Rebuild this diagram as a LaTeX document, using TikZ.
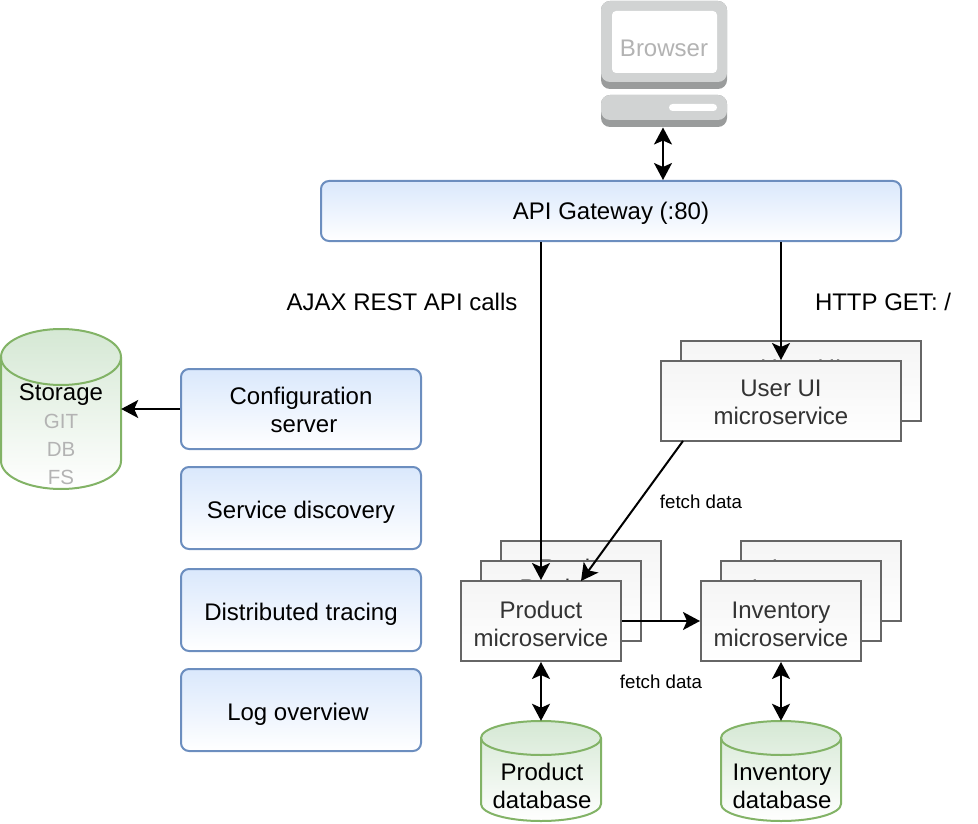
\documentclass[tikz,border=0pt]{standalone}
\usepackage{fontspec}
\setmainfont{Liberation Sans}
\usetikzlibrary{arrows.meta}
\definecolor{bluefill}{HTML}{DAE8FC}
\definecolor{blueline}{HTML}{6C8EBF}
\definecolor{greenfill}{HTML}{D5E8D4}
\definecolor{greenline}{HTML}{82B366}
\definecolor{msline}{HTML}{666666}
\definecolor{mstext}{HTML}{333333}
\definecolor{msfill}{HTML}{F5F5F5}
\definecolor{mutedtext}{HTML}{B3B3B3}
\definecolor{pclight}{HTML}{D1D3D3}
\definecolor{pcdark}{HTML}{9A9C9C}
\newcommand{\tl}[2]{\raisebox{-#1}[\height][\depth]{#2}}
\newcommand{\cylbody}[5]{%
  \path[cylstyle] (#1-#4,#2+#5) -- (#1-#4,#3-#5)
    .. controls (#1-#4,#3-#5+0.5523*#5) and (#1-0.5523*#4,#3) .. (#1,#3)
    .. controls (#1+0.5523*#4,#3) and (#1+#4,#3-#5+0.5523*#5) .. (#1+#4,#3-#5)
    -- (#1+#4,#2+#5)
    .. controls (#1+#4,#2+#5-0.5523*#5) and (#1+0.5523*#4,#2) .. (#1,#2)
    .. controls (#1-0.5523*#4,#2) and (#1-#4,#2+#5-0.5523*#5) .. (#1-#4,#2+#5) -- cycle;
  \draw[greenline,line width=2pt] (#1-#4,#2+#5)
    .. controls (#1-#4,#2+#5+0.5523*#5) and (#1-0.5523*#4,#2+2*#5) .. (#1,#2+2*#5)
    .. controls (#1+0.5523*#4,#2+2*#5) and (#1+#4,#2+#5+0.5523*#5) .. (#1+#4,#2+#5);
}
\tikzset{
  x=1pt,y=-1pt,
  >={Stealth[length=17pt,width=18pt,inset=4pt]},
  labelfont/.style={font=\fontsize{24}{28}\selectfont,align=center,inner sep=0pt},
  smallfont/.style={font=\fontsize{18.7}{22}\selectfont,inner sep=0pt},
  mutedfont/.style={font=\fontsize{20.5}{24}\selectfont,inner sep=0pt,text=mutedtext},
  cylstyle/.style={draw=greenline,line width=2pt,top color=greenfill,bottom color=white},
  bluebox/.style={labelfont,draw=blueline,line width=2pt,rounded corners=8pt,top color=bluefill,bottom color=white,text=black,minimum width=240pt,minimum height=80pt},
  msbox/.style={labelfont,draw=msline,line width=2pt,top color=msfill,bottom color=white,text=mstext,minimum width=160pt,minimum height=80pt},
  uibox/.style={msbox,minimum width=240pt},
  cyltext/.style={labelfont,text=black},
  pcdarkpart/.style={fill=pcdark,draw=none,rounded corners=9pt},
  pclightpart/.style={fill=pclight,draw=none,rounded corners=9pt},
  link/.style={draw=black,line width=2pt},
}
\begin{document}
\begin{tikzpicture}
\useasboundingbox (0,0) rectangle (978,824);
% browser
\path[pcdarkpart] (601,1) rectangle (727,89);
\path[pclightpart] (601,1) rectangle (727,82);
\path[fill=white,rounded corners=4pt] (612,11) rectangle (717,73);
\node[labelfont,text=mutedtext] (browser) at (664,48) {Browser};
\path[pcdarkpart] (601,95) rectangle (727,127);
\node[pclightpart,inner sep=0pt,minimum width=126pt,minimum height=25pt] (browserbase) at (664,107.5) {};
\path[fill=white,rounded corners=3.5pt] (669,104) rectangle (717,111);
\coordinate (browserfoot) at (663,127.5);
% gateway
\node[bluebox,minimum width=580pt,minimum height=60pt] (gw) at (611,211) {\tl{2pt}{API Gateway (:80)}};
% left column
\node[bluebox] (config) at (301,409) {\tl{1pt}{Configuration}\\\tl{1pt}{\hspace{6pt}server}};
\node[bluebox,minimum height=82pt] (disc) at (301,508) {\tl{4pt}{Service discovery}};
\node[bluebox,minimum height=82pt] (trace) at (301,610) {\tl{4pt}{Distributed tracing}};
\node[bluebox,minimum height=82pt] (log) at (301,710) {\tl{4pt}{Log overview\hspace{6pt}}};
% storage
\cylbody{61}{329}{489}{60}{28}
\node[cyltext,minimum width=120pt,minimum height=160pt] (storage) at (61,409) {};
\node[cyltext] (storagetitle) at (61,395) {Storage};
\node[mutedfont] (storagegit) at (61,421) {GIT};
\node[mutedfont] (storagedb) at (61,449) {DB};
\node[mutedfont] (storagefs) at (61,477) {FS};
% microservices
\node[uibox] (userback) at (801,381) {\tl{1pt}{User UI}\\\phantom{microservice}};
\node[msbox] (prodback) at (581,581) {\tl{1pt}{Product}\\\phantom{microservice}};
\node[msbox] (prodmid) at (561,601) {\tl{1pt}{Product}\\\phantom{microservice}};
\node[msbox] (invback) at (821,581) {\tl{1pt}{Inventory}\\\phantom{microservice}};
\node[msbox] (invmid) at (801,601) {\tl{1pt}{Inventory}\\\phantom{microservice}};
\node[uibox] (user) at (781,401) {\tl{1pt}{User UI}\\\tl{1pt}{microservice}};
\node[msbox] (prod) at (541,621) {\tl{3pt}{Product}\\\tl{3pt}{microservice}};
\node[msbox] (inv) at (781,621) {\tl{3pt}{Inventory}\\\tl{3pt}{microservice}};
% databases
\cylbody{541}{721}{821}{60}{17}
\node[cyltext,minimum width=120pt,minimum height=100pt] (proddb) at (541,771) {};
\node[cyltext] (proddbtext) at (542,786) {Product\\database};
\cylbody{781}{721}{821}{60}{17}
\node[cyltext,minimum width=120pt,minimum height=100pt] (invdb) at (781,771) {};
\node[cyltext] (invdbtext) at (782,786) {Inventory\\database};
% labels
\node[labelfont] (ajax) at (402,302) {AJAX REST API calls};
\node[labelfont] (http) at (883,302) {HTTP GET: /};
\node[smallfont] (fetchone) at (701,502) {fetch data};
\node[smallfont] (fetchtwo) at (661,682) {fetch data};
% connectors
\coordinate (userexit) at (683,441);
\coordinate (prodentry) at (581,581);
\draw[link,<->] (browserfoot) -- (browserfoot |- gw.north);
\draw[link,->] (prod.north |- gw.south) -- (prod.north);
\draw[link,->] (user.north |- gw.south) -- (user.north);
\draw[link,->] (userexit) -- (prodentry);
\draw[link,->] (prod.east) -- (inv.west);
\draw[link,<->] (prod.south) -- (proddb.north);
\draw[link,<->] (inv.south) -- (invdb.north);
\draw[link,->] (config.west) -- (storage.east);
\end{tikzpicture}
\end{document}
